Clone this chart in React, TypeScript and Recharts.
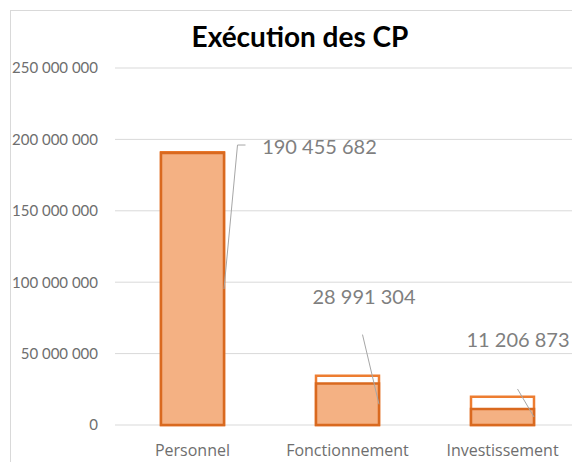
import React from 'react';
import { BarChart, Bar, XAxis, YAxis, CartesianGrid, LabelList } from 'recharts';

const categories = ['Personnel', 'Fonctionnement', 'Investissement'];
const budgetValues = [191000000, 34500000, 19800000];
const executedValues = [190455682, 28991304, 11206873];
const yTicks = [0, 50000000, 100000000, 150000000, 200000000, 250000000];

const data = categories.map((name, i) => ({ name, budget: budgetValues[i], executed: executedValues[i] }));

// label placement relative to each executed bar (dragged labels with leader lines)
const LABEL_LAYOUT = [
  { dx: 127, dy: 1, sx: 53, sy: -8, ex: 45 },
  { dx: 16.5, dy: -80, sx: 15, sy: -49 },
  { dx: 15.5, dy: -62, sx: 15, sy: -20 },
];

const fmt = (v: number) => String(Math.round(v)).replace(/\B(?=(\d{3})+(?!\d))/g, ' ');

const NUM_FONT = 'Lato, "Open Sans", sans-serif';

const ExecLabel = (props: any) => {
  const { x, y, width, height, value } = props;
  let index = props.index;
  if (index === undefined) index = executedValues.indexOf(value);
  const L = LABEL_LAYOUT[index] || LABEL_LAYOUT[0];
  const cx = Number(x) + Number(width) / 2;
  const top = Number(y);
  const right = Number(x) + Number(width);
  const midY = Number(y) + Number(height) / 2;
  const pts: string[] = [`${cx + L.sx},${top + L.sy}`];
  if ((L as any).ex !== undefined) pts.push(`${cx + (L as any).ex},${top + L.sy}`);
  pts.push(`${right},${midY}`);
  return (
    <g>
      <polyline points={pts.join(' ')} fill="none" stroke="#a6a6a6" strokeWidth={1} />
      <text
        x={cx + L.dx}
        y={top + L.dy}
        textAnchor="middle"
        fill="#7f7f7f"
        fontSize={20}
        fontFamily={NUM_FONT}
      >
        {fmt(value)}
      </text>
    </g>
  );
};

export default function App() {
  return (
    <div style={{ position: 'absolute', left: 0, top: 0, width: 572, height: 462, overflow: 'hidden', background: '#fff' }}>
      <div
        style={{
          position: 'absolute',
          left: 10,
          top: 10,
          width: 600,
          height: 470,
          border: '1px solid #d9d9d9',
          background: '#fff',
        }}
      >
        <div
          style={{
            position: 'absolute',
            left: 0,
            top: 8,
            width: 578,
            textAlign: 'center',
            fontFamily: NUM_FONT,
            fontWeight: 700,
            fontSize: 28,
            color: '#000',
            lineHeight: '34px',
          }}
        >
          Exécution des CP
        </div>
        <BarChart
          width={600}
          height={470}
          data={data}
          margin={{ top: 57, right: 31, bottom: 16, left: 0 }}
          barSize={63}
          barGap={-63}
        >
          <CartesianGrid horizontal vertical={false} stroke="#d9d9d9" strokeWidth={1} />
          <XAxis
            dataKey="name"
            axisLine={false}
            tickLine={false}
            tickSize={0}
            tickMargin={20}
            height={40}
            interval={0}
            tick={{ fill: '#6e6e6e', fontSize: 16, fontFamily: '"Open Sans", sans-serif' }}
          />
          <YAxis
            domain={[0, 250000000]}
            ticks={yTicks}
            interval={0}
            axisLine={false}
            tickLine={false}
            tickSize={0}
            tickMargin={17}
            width={104}
            tickFormatter={fmt}
            tick={{ fill: '#6e6e6e', fontSize: 15, fontFamily: NUM_FONT }}
          />
          <Bar dataKey="budget" fill="#ffffff" stroke="#ED7D31" strokeWidth={2.5} isAnimationActive={false} />
          <Bar dataKey="executed" fill="#F4B183" stroke="#D9691F" strokeWidth={2.5} isAnimationActive={false}>
            <LabelList dataKey="executed" content={ExecLabel} />
          </Bar>
        </BarChart>
      </div>
    </div>
  );
}
